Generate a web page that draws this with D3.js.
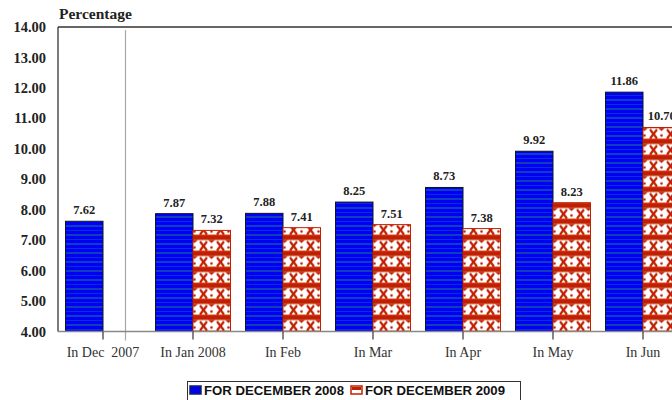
<!DOCTYPE html>
<html>
<head>
<meta charset="utf-8">
<script src="https://cdn.jsdelivr.net/npm/d3@7"></script>
<style>
  html, body { margin: 0; padding: 0; background: #fff; }
  svg { display: block; }
</style>
</head>
<body>
<svg id="chart" width="672" height="400"></svg>
<script>
// Monthly percentages, December 2008 vs December 2009 series
const categories = ["In Dec  2007", "In Jan 2008", "In Feb", "In Mar", "In Apr", "In May", "In Jun"];
const seriesNames = ["FOR DECEMBER 2008", "FOR DECEMBER 2009"];
const values2008 = [7.62, 7.87, 7.88, 8.25, 8.73, 9.92, 11.86];
const values2009 = [null, 7.32, 7.41, 7.51, 7.38, 8.23, 10.70];
const yTicks = [4, 5, 6, 7, 8, 9, 10, 11, 12, 13, 14];

const svg = d3.select("#chart");
const W = 672, H = 400;
const plotLeft = 58, plotTop = 27, plotBottom = 331.5;
const bandW = 90;

const x = d3.scaleBand()
  .domain(categories)
  .range([plotLeft, plotLeft + bandW * categories.length])
  .paddingInner(0)
  .paddingOuter(0);
const inner = d3.scaleBand()
  .domain(seriesNames)
  .range([7.5, bandW - 7.5]);
const y = d3.scaleLinear().domain([4, 14]).range([plotBottom, plotTop]);

// Fill patterns
const defs = svg.append("defs");
const pb = defs.append("pattern").attr("id", "blueStripe")
  .attr("patternUnits", "userSpaceOnUse").attr("width", 8).attr("height", 9);
pb.append("rect").attr("width", 8).attr("height", 9).attr("fill", "#0000f8");
pb.append("rect").attr("y", 0).attr("width", 8).attr("height", 2).attr("fill", "#1040b8");
pb.append("rect").attr("y", 5).attr("width", 8).attr("height", 1).attr("fill", "#0a2fd0");

const RED = "#c02000";
const pr = defs.append("pattern").attr("id", "redCross")
  .attr("patternUnits", "userSpaceOnUse").attr("width", 17).attr("height", 16)
  .attr("y", plotBottom);
pr.append("rect").attr("width", 17).attr("height", 16).attr("fill", "#ffffff");
pr.append("rect").attr("width", 17).attr("height", 4.5).attr("fill", RED);
pr.append("path").attr("d", "M1,6 L8,15 M8,6 L1,15")
  .attr("stroke", RED).attr("stroke-width", 2.2);
pr.append("path").attr("d", "M9,4.5 L12.5,7.5 L16,4.5 Z")
  .attr("fill", RED);
pr.append("circle").attr("cx", 12.5).attr("cy", 12).attr("r", 1.3).attr("fill", RED);
pr.append("rect").attr("y", 15).attr("width", 17).attr("height", 1).attr("fill", "#d84020");

const plot = svg.append("g");

// Y axis labels
plot.append("g").selectAll("text").data(yTicks).join("text")
  .attr("x", 46).attr("y", d => y(d)).attr("dy", "0.35em")
  .attr("text-anchor", "end")
  .attr("font-family", "Liberation Serif, serif").attr("font-weight", "bold")
  .attr("font-size", 14.5).attr("fill", "#222")
  .text(d => d3.format(".2f")(d));

// Axis title
plot.append("text").attr("x", 59).attr("y", 19)
  .attr("font-family", "Liberation Serif, serif").attr("font-weight", "bold")
  .attr("font-size", 15.5).attr("fill", "#222").text("Percentage");

// Separator between 2007 and 2008
plot.append("line")
  .attr("x1", 125.5).attr("x2", 125.5).attr("y1", plotTop + 3).attr("y2", plotBottom + 9)
  .attr("stroke", "#a8a8a8").attr("stroke-width", 1.2);

// Bars
const groups = plot.append("g").selectAll("g").data(categories).join("g")
  .attr("transform", d => `translate(${x(d)},0)`);

groups.append("rect")
  .attr("x", inner(seriesNames[0]))
  .attr("width", inner.bandwidth())
  .attr("y", (d, i) => y(values2008[i]))
  .attr("height", (d, i) => y(4) - y(values2008[i]))
  .attr("fill", "url(#blueStripe)")
  .attr("stroke", "#101030").attr("stroke-width", 1);

groups.filter((d, i) => values2009[i] != null).append("rect")
  .attr("x", inner(seriesNames[1]))
  .attr("width", inner.bandwidth())
  .attr("y", d => y(values2009[categories.indexOf(d)]))
  .attr("height", d => y(4) - y(values2009[categories.indexOf(d)]))
  .attr("fill", "url(#redCross)")
  .attr("stroke", RED).attr("stroke-width", 1);

// Value labels
const lblFont = g => g.attr("font-family", "Liberation Serif, serif")
  .attr("font-weight", "bold").attr("font-size", 12.5).attr("fill", "#222")
  .attr("text-anchor", "middle");

groups.append("text").call(lblFont)
  .attr("x", inner(seriesNames[0]) + inner.bandwidth() / 2)
  .attr("y", (d, i) => y(values2008[i]) - 7)
  .text((d, i) => values2008[i].toFixed(2));

groups.filter((d, i) => values2009[i] != null).append("text").call(lblFont)
  .attr("x", inner(seriesNames[1]) + inner.bandwidth() / 2)
  .attr("y", d => y(values2009[categories.indexOf(d)]) - 7)
  .text(d => values2009[categories.indexOf(d)].toFixed(2));

// Frame: left and top borders, baseline
plot.append("line").attr("x1", plotLeft).attr("x2", plotLeft).attr("y1", plotTop).attr("y2", plotBottom)
  .attr("stroke", "#333").attr("stroke-width", 1.3);
plot.append("line").attr("x1", plotLeft).attr("x2", W).attr("y1", plotTop).attr("y2", plotTop)
  .attr("stroke", "#333").attr("stroke-width", 1.3);
plot.append("line").attr("x1", plotLeft).attr("x2", W).attr("y1", plotBottom).attr("y2", plotBottom)
  .attr("stroke", "#888").attr("stroke-width", 1.3);

// Category ticks and labels
const xAxis = plot.append("g");
xAxis.selectAll("line").data(categories).join("line")
  .attr("x1", d => x(d) + x.bandwidth() / 2).attr("x2", d => x(d) + x.bandwidth() / 2)
  .attr("y1", plotBottom).attr("y2", plotBottom + 8)
  .attr("stroke", "#333").attr("stroke-width", 1.2);
xAxis.selectAll("text").data(categories).join("text")
  .attr("x", d => x(d) + x.bandwidth() / 2).attr("y", 357)
  .attr("text-anchor", "middle")
  .attr("font-family", "Liberation Serif, serif").attr("font-size", 14)
  .attr("fill", "#333").style("white-space", "pre")
  .text(d => d);

// Legend
const lg = svg.append("g");
lg.append("rect").attr("x", 187.5).attr("y", 381.5).attr("width", 333).attr("height", 24)
  .attr("fill", "#fff").attr("stroke", "#333").attr("stroke-width", 1);
const legendItems = [
  { name: seriesNames[0], x: 190, fill: "#0000f0", stroke: "#102060" },
  { name: seriesNames[1], x: 351, fill: "#ffffff", stroke: RED }
];
const li = lg.selectAll("g").data(legendItems).join("g")
  .attr("transform", d => `translate(${d.x},386)`);
li.append("rect").attr("width", 11).attr("height", 8)
  .attr("fill", d => d.fill).attr("stroke", d => d.stroke).attr("stroke-width", 1.5);
li.filter((d, i) => i === 1).append("rect").attr("x", 1).attr("y", 1).attr("width", 9).attr("height", 3)
  .attr("fill", RED);
li.append("text").attr("x", 14).attr("y", 9)
  .attr("font-family", "Liberation Sans, Arial, sans-serif").attr("font-weight", "bold")
  .attr("font-size", 13.2).attr("fill", "#111")
  .text(d => d.name);
</script>
</body>
</html>
